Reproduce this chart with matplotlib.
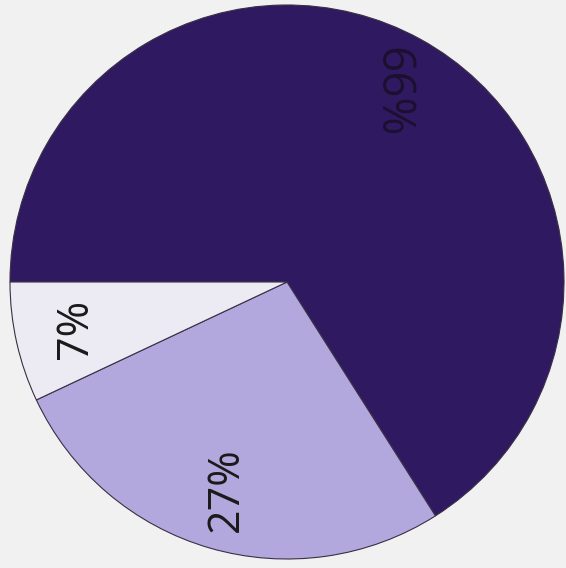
import matplotlib.pyplot as plt

shares = [66, 27, 7]
labels = ['66%', '27%', '7%']
colors = ['#2f1a62', '#b2a8dd', '#ecebf3']
label_rot = [-90, 90, 90]

fig = plt.figure(figsize=(5.66, 5.68), dpi=100)
fig.patch.set_facecolor('#f1f1f1')

# circle centre ~ (287, 282) px, radius ~ 277 px
cx, cy, r = 287, 282, 277
ax = fig.add_axes([(cx - r) / 566, (568 - cy - r) / 568, 2 * r / 566, 2 * r / 568])

wedges, texts = ax.pie(shares, labels=labels, colors=colors, startangle=180,
                       counterclock=False, labeldistance=0.78,
                       wedgeprops={'edgecolor': '#3a2f45', 'linewidth': 0.8},
                       textprops={'fontsize': 31, 'family': 'Open Sans', 'color': '#1a1a1a'})
for t, rot in zip(texts, label_rot):
    t.set_rotation(rot)
    t.set_ha('center')
    t.set_va('center')
texts[0].set_color('#1c1030')
texts[0].set_fontsize(33)

ax.set_xlim(-1, 1)
ax.set_ylim(-1, 1)
ax.axis('off')

plt.savefig('out.png', dpi=100, facecolor=fig.get_facecolor())
